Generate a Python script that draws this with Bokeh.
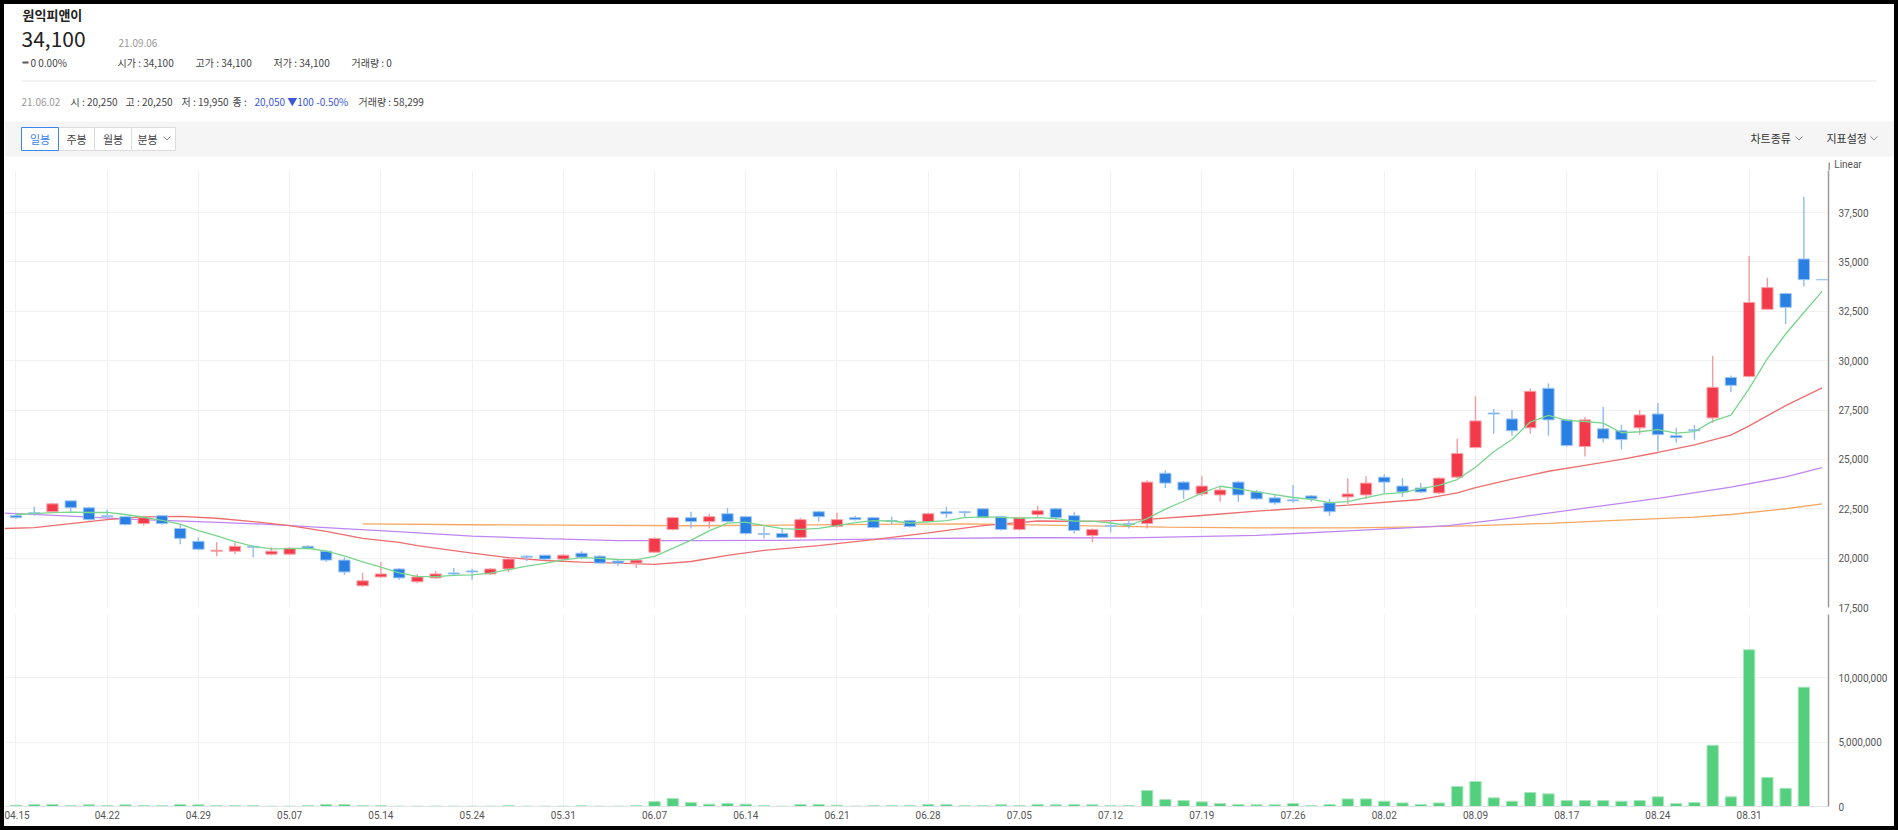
from bokeh.plotting import figure
from bokeh.models import FixedTicker, NumeralTickFormatter, Range1d
from bokeh.layouts import column, row
from bokeh.embed import file_html
from bokeh.resources import INLINE
from bokeh.core.properties import value

KR = "Noto Sans CJK KR"
NUM = "Roboto"

# ---------------- data ----------------
date_labels = ["04.15", "04.22", "04.29", "05.07", "05.14", "05.24", "05.31", "06.07", "06.14", "06.21",
               "06.28", "07.05", "07.12", "07.19", "07.26", "08.02", "08.09", "08.17", "08.24", "08.31"]

opens = [22150, 22300, 22350, 22900, 22550, 22150, 22100, 21750, 22150, 21500,
         20850, 20350, 20350, 20600, 20200, 20200, 20600, 20350, 19900, 18600,
         19050, 19450, 18800, 19000, 19250, 19350, 19200, 19450, 20100, 20150,
         19950, 20250, 20100, 19850, 19750, 20300, 21450, 22050, 21850, 22250,
         22100, 21250, 21250, 21050, 22350, 21600, 22050, 22050, 21900, 21900,
         21850, 22350, 22350, 22500, 22100, 21450, 22200, 22500, 22150, 21150,
         21650, 21750, 21750, 24300, 23850, 23250, 23200, 23850, 23350, 23050,
         22950, 23150, 22800, 23100, 23200, 24100, 23650, 23550, 23300, 24100,
         25600, 27350, 27050, 26600, 28600, 27000, 25650, 26550, 26450, 26600,
         27300, 26200, 26500, 27100, 29150, 29200, 32600, 33400, 35150, 34100]
highs = [22300, 22600, 22800, 22900, 22600, 22450, 22150, 22150, 22200, 21700,
         21050, 20800, 20800, 20650, 20550, 20550, 20650, 20400, 20050, 19250,
         19800, 19500, 19200, 19350, 19500, 19450, 19500, 20000, 20150, 20150,
         20200, 20350, 20150, 19950, 19950, 21050, 22100, 22350, 22250, 22550,
         22150, 21600, 21500, 22050, 22400, 22300, 22150, 22100, 22100, 21950,
         22300, 22600, 22400, 22500, 22150, 22100, 22650, 22550, 22350, 21500,
         21900, 21900, 23950, 24450, 23900, 24150, 23650, 23900, 23450, 23200,
         23700, 23200, 23000, 24050, 24150, 24250, 24050, 23800, 24100, 26050,
         28200, 27550, 27500, 28600, 28850, 27050, 27150, 27650, 26750, 27500,
         27850, 26600, 26750, 30250, 29250, 35300, 34200, 33450, 38300, 34100]
lows = [22000, 22150, 22350, 22350, 21900, 22000, 21650, 21650, 21700, 20700,
        20400, 20100, 20200, 20050, 20150, 20150, 20450, 19800, 19150, 18550,
        19000, 18900, 18750, 18950, 19100, 18900, 19150, 19300, 19850, 19900,
        19950, 19950, 19700, 19600, 19500, 20300, 21400, 21500, 21500, 21800,
        21200, 21000, 21050, 21000, 21850, 21550, 21900, 21500, 21700, 21550,
        21850, 22050, 22050, 22050, 21400, 21400, 22100, 21950, 21250, 20800,
        21300, 21500, 21500, 23550, 23000, 23150, 22850, 22850, 22950, 22700,
        22800, 22850, 22150, 22750, 23000, 23300, 23100, 23300, 23250, 24050,
        25550, 26300, 26200, 26300, 26200, 25650, 25150, 25850, 25500, 26250,
        25400, 25850, 26000, 26850, 28400, 29150, 32600, 31850, 33750, 34100]
closes = [22050, 22250, 22750, 22550, 21950, 22100, 21700, 22050, 21750, 21000,
          20450, 20400, 20600, 20550, 20350, 20500, 20500, 19900, 19300, 18850,
          19200, 19000, 19050, 19200, 19200, 19300, 19450, 19950, 20050, 19950,
          20150, 20050, 19750, 19750, 19900, 21000, 22050, 21850, 22100, 21850,
          21250, 21200, 21050, 21950, 22100, 21950, 21950, 21550, 21850, 21600,
          22250, 22250, 22300, 22050, 21450, 22050, 22400, 22050, 21400, 21450,
          21600, 21700, 23850, 23800, 23450, 23650, 23450, 23200, 23000, 22800,
          22900, 23000, 22350, 23250, 23800, 23850, 23350, 23350, 24050, 25300,
          26950, 27300, 26450, 28450, 27000, 25700, 27000, 26050, 26000, 27250,
          26250, 26100, 26450, 28650, 28750, 32950, 33700, 32700, 34100, 34100]
volumes = [100000, 160000, 160000, 80000, 130000, 80000, 130000, 80000, 80000, 160000,
           130000, 80000, 80000, 80000, 30000, 30000, 80000, 160000, 160000, 80000,
           80000, 30000, 30000, 30000, 30000, 30000, 30000, 80000, 30000, 30000,
           30000, 58299, 30000, 30000, 80000, 390000, 620000, 310000, 180000, 230000,
           180000, 80000, 30000, 160000, 160000, 100000, 30000, 80000, 80000, 80000,
           160000, 150000, 80000, 80000, 130000, 80000, 150000, 130000, 150000, 130000,
           80000, 80000, 1240000, 540000, 460000, 360000, 230000, 150000, 130000, 130000,
           230000, 80000, 150000, 590000, 590000, 410000, 280000, 150000, 280000, 1550000,
           1940000, 670000, 410000, 1080000, 980000, 460000, 460000, 460000, 410000, 460000,
           750000, 230000, 310000, 4750000, 750000, 12160000, 2260000, 1410000, 9260000, 0]

ma5 = [22210, 22250, 22300, 22330, 22310, 22320, 22210, 22070, 21910, 21720,
       21390, 21130, 20840, 20600, 20470, 20480, 20500, 20360, 20110, 19810,
       19550, 19250, 19080, 19060, 19130, 19150, 19240, 19420, 19590, 19740,
       19910, 20030, 19990, 19930, 19920, 20090, 20490, 20910, 21380, 21770,
       21820, 21650, 21490, 21460, 21510, 21650, 21800, 21900, 21880, 21780,
       21840, 21900, 22050, 22090, 22060, 22020, 22050, 22000, 21870, 21870,
       21780, 21640, 22000, 22480, 22880, 23290, 23640, 23510, 23350, 23220,
       23070, 22980, 22810, 22860, 23060, 23250, 23320, 23520, 23680, 23980,
       24600, 25390, 26010, 26890, 27230, 26980, 26920, 26840, 26350, 26400,
       26510, 26330, 26410, 26940, 27240, 28580, 30100, 31350, 32440, 33510]

ma20_x = [-0.63, 1, 3, 5, 7, 9, 11, 13, 15, 17, 19, 21, 22, 25, 27, 29, 31, 33, 35, 37, 39, 41, 44,
          47, 50, 53, 56, 59, 62, 65, 68, 71, 73, 77, 79, 80, 82, 84, 86, 88, 90, 92, 94, 95, 97, 99]
ma20_y = [21500, 21550, 21750, 21950, 22090, 22110, 22020, 21850, 21650, 21350, 21000, 20800, 20630,
          20250, 20030, 19880, 19800, 19750, 19680, 19830, 20140, 20390, 20630, 20940, 21280, 21650,
          21880, 21860, 21960, 22160, 22380, 22560, 22680, 22970, 23310, 23570, 24000, 24400, 24700,
          25000, 25350, 25740, 26230, 26700, 27720, 28620]

ma60_x = [-0.63, 3, 6.4, 10, 13.6, 17.2, 20.9, 25, 29, 33, 37, 42, 49, 56, 61, 68, 73, 76, 78.5,
          82, 86, 90, 94, 97, 99]
ma60_y = [22280, 22130, 21960, 21850, 21720, 21530, 21340, 21110, 20990, 20890, 20890, 20900, 20990,
          21040, 21030, 21150, 21380, 21520, 21650, 22030, 22530, 23030, 23600, 24110, 24580]

ma120_x = [19, 25, 30, 37, 42, 47, 52, 58, 63, 68, 73, 77, 80, 84, 88, 92, 94, 97, 99]
ma120_y = [21730, 21690, 21670, 21640, 21670, 21710, 21730, 21650, 21570, 21530, 21530, 21580,
           21650, 21760, 21920, 22080, 22210, 22500, 22750]

price_ticks = [17500, 20000, 22500, 25000, 27500, 30000, 32500, 35000, 37500]
volume_ticks = [0, 5000000, 10000000]

# ---------------- layout constants ----------------
W = 1890
RB = 66
XR = Range1d(-0.63, 99.35)
PR = Range1d(17500, 39630)
VR = Range1d(0, 14900000)
n = len(closes)
idx = list(range(n))
tick_idx = list(range(0, n, 5))
TXT = "#444444"
GRID = "#f1f1f1"
AXC = "#9a9a9a"

# ---------------- header ----------------
HH = 166
head = figure(width=W, height=HH, x_range=Range1d(0, W), y_range=Range1d(HH, 0),
              x_axis_location=None, y_axis_location=None, toolbar_location=None,
              output_backend="svg", min_border=0, outline_line_color=None,
              background_fill_color="white", border_fill_color="white")
head.grid.visible = False

head.quad(left=[0], right=[W], top=[117], bottom=[152], fill_color="#f5f5f5", line_color=None)
head.segment(x0=[17], y0=[76.5], x1=[1872], y1=[76.5], line_color="#e6e6e6", line_width=1)
btn_l = [17, 54, 90, 127]
btn_r = [54, 90, 127, 171]
head.quad(left=btn_l[1:], right=btn_r[1:], top=[123] * 3, bottom=[146] * 3,
          fill_color="white", line_color="#dcdcdc", line_width=1)
head.quad(left=[btn_l[0]], right=[btn_r[0]], top=[123], bottom=[146],
          fill_color="white", line_color="#3a86f0", line_width=1)
head.text(x=[35.5], y=[134.5], text=["일봉"], text_font=value(KR), text_font_size=value("11px"),
          text_color="#3a86f0", text_align="center", text_baseline="middle")
head.text(x=[72, 108.5, 143], y=[134.5] * 3, text=["주봉", "월봉", "분봉"], text_font=value(KR),
          text_font_size=value("11px"), text_color=TXT, text_align="center", text_baseline="middle")
head.text(x=[1746, 1822], y=[133.5] * 2, text=["차트종류", "지표설정"], text_font=value(KR),
          text_font_size=value("11px"), text_color="#333333", text_align="left", text_baseline="middle")
chev_x0 = [159, 1791, 1866]
head.multi_line(xs=[[c, c + 3.5, c + 7] for c in chev_x0], ys=[[132, 135.5, 132]] * 3,
                line_color="#8a8a8a", line_width=1)
# vertical axis line continuing up to the "Linear" label, as in the reference
AX_X = W - RB + 0.75
head.segment(x0=[AX_X], y0=[158], x1=[AX_X], y1=[HH], line_color=AXC, line_width=1.5)
head.text(x=[AX_X + 5], y=[159.5], text=["Linear"], text_font=value(NUM), text_font_size=value("10px"),
          text_color="#555555", text_baseline="middle")

head.text(x=[18], y=[10], text=["원익피앤이"], text_font=value(KR), text_font_size=value("13px"),
          text_font_style="bold", text_color="#222222", text_baseline="middle")
head.text(x=[17], y=[34], text=["34,100"], text_font=value(KR), text_font_size=value("21px"),
          text_color="#222222", text_baseline="middle")
head.text(x=[114], y=[38], text=["21.09.06"], text_font=value(KR), text_font_size=value("10px"),
          text_color="#999999", text_baseline="middle")
head.quad(left=[18], right=[24], top=[57], bottom=[59], fill_color="#555555", line_color=None)
head.text(x=[26, 113, 191, 269, 347], y=[58] * 5,
          text=["0 0.00%", "시가 : 34,100", "고가 : 34,100", "저가 : 34,100", "거래량 : 0"],
          text_font=value(KR), text_font_size=value("10px"), text_color=TXT, text_baseline="middle")
head.text(x=[17], y=[97], text=["21.06.02"], text_font=value(KR), text_font_size=value("10px"),
          text_color="#999999", text_baseline="middle")
head.text(x=[66, 121, 177, 228, 354], y=[97] * 5,
          text=["시 : 20,250", "고 : 20,250", "저 : 19,950", "종 :", "거래량 : 58,299"],
          text_font=value(KR), text_font_size=value("10px"), text_color=TXT, text_baseline="middle")
head.text(x=[250], y=[97], text=["20,050 ▼100 -0.50%"], text_font=value(KR),
          text_font_size=value("10px"), text_color="#3d55d8", text_baseline="middle")

# ---------------- price panel ----------------
pp = figure(width=W, height=444, x_range=XR, y_range=PR,
            x_axis_location=None, y_axis_location="right", toolbar_location=None,
            output_backend="svg", min_border_left=0, min_border_right=RB, min_border_top=0,
            min_border_bottom=7, outline_line_color=None,
            background_fill_color="white", border_fill_color="white")
pp.xgrid.ticker = FixedTicker(ticks=tick_idx)
pp.ygrid.ticker = FixedTicker(ticks=price_ticks + [PR.end])
pp.grid.grid_line_color = GRID
ax = pp.yaxis[0]
ax.ticker = FixedTicker(ticks=price_ticks)
ax.formatter = NumeralTickFormatter(format="0,0")
ax.major_tick_line_color = None
ax.minor_tick_line_color = None
ax.axis_line_color = AXC
ax.axis_line_width = 1.5
ax.major_label_text_font = NUM
ax.major_label_text_font_size = "10px"
ax.major_label_text_color = "#555555"
ax.major_label_standoff = 4

up = [c > o for o, c in zip(opens, closes)]
body_fill = ["#f33a4a" if u else "#2a7fe2" for u in up]
body_line = ["#f6a3aa" if u else "#9fc6f3" for u in up]
wick_col = ["#f59aa3" if u else "#8fbcf0" for u in up]
tops = [max(o, c) for o, c in zip(opens, closes)]
bots = [min(o, c) for o, c in zip(opens, closes)]

pp.line(ma120_x, ma120_y, line_color="#f5a862", line_width=1.3)
pp.line(ma60_x, ma60_y, line_color="#bf86f3", line_width=1.3)
pp.line(ma20_x, ma20_y, line_color="#ee6d6d", line_width=1.3)
pp.segment(x0=idx, y0=lows, x1=idx, y1=highs, line_color=wick_col, line_width=1.4)
pp.vbar(x=idx, width=0.62, top=tops, bottom=bots, fill_color=body_fill, line_color=body_line, line_width=1)
pp.line(idx, ma5, line_color="#78d68c", line_width=1.3)

# ---------------- volume panel ----------------
pv = figure(width=W, height=212, x_range=XR, y_range=VR,
            y_axis_location="right", toolbar_location=None, output_backend="svg",
            min_border_left=0, min_border_right=RB, min_border_top=0, min_border_bottom=20,
            outline_line_color=None, background_fill_color="white", border_fill_color="white")
pv.xgrid.ticker = FixedTicker(ticks=tick_idx)
pv.ygrid.ticker = FixedTicker(ticks=[5000000, 10000000, VR.end])
pv.grid.grid_line_color = GRID
vy = pv.yaxis[0]
vy.ticker = FixedTicker(ticks=volume_ticks)
vy.formatter = NumeralTickFormatter(format="0,0")
vy.major_tick_line_color = None
vy.minor_tick_line_color = None
vy.axis_line_color = AXC
vy.axis_line_width = 1.5
vy.major_label_text_font = NUM
vy.major_label_text_font_size = "10px"
vy.major_label_text_color = "#555555"
vy.major_label_standoff = 4
vx = pv.xaxis[0]
vx.ticker = FixedTicker(ticks=tick_idx)
vx.major_label_overrides = {t: d for t, d in zip(tick_idx, date_labels)}
vx.major_tick_line_color = None
vx.minor_tick_line_color = None
vx.major_tick_out = 0
vx.axis_line_color = "#dfe3ea"
vx.major_label_text_font = NUM
vx.major_label_text_font_size = "10px"
vx.major_label_text_color = "#555555"
vx.major_label_standoff = 4

pv.vbar(x=idx, width=0.62, top=volumes, bottom=0, fill_color="#53cf7e", line_color="#a8e6bc", line_width=1)

layout = column(row(head), column(pp, pv),
                styles={"border": "4px solid #000000", "background-color": "#ffffff"})

open("out.html", "w").write(file_html(layout, INLINE))
